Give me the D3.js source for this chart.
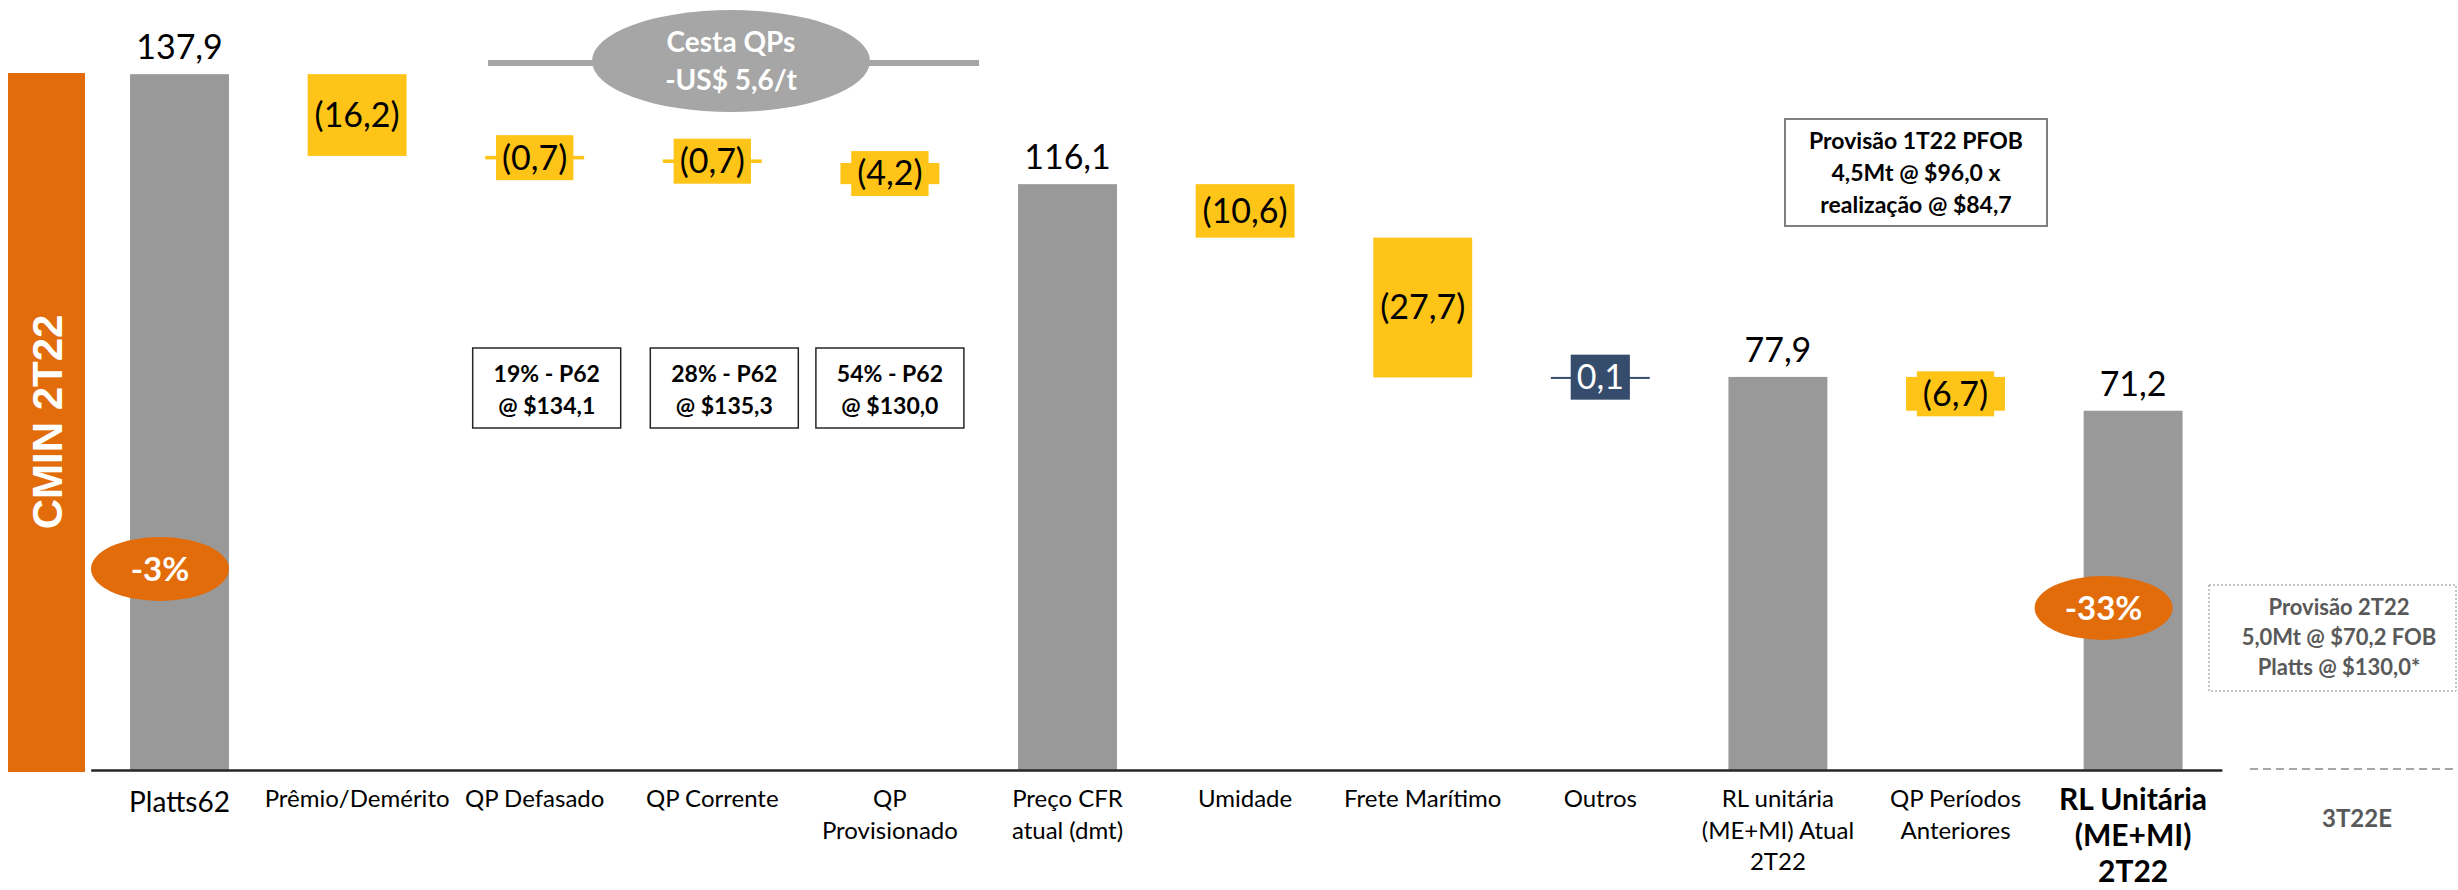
<!DOCTYPE html>
<html>
<head>
<meta charset="utf-8">
<script src="https://cdn.jsdelivr.net/npm/d3@7"></script>
<style>
  body { margin: 0; background: #fff; }
  text { font-family: Lato, 'Open Sans', sans-serif; }
</style>
</head>
<body>
<svg id="chart"></svg>
<script>
// waterfall categories, with how the axis label wraps
const categories = ['Platts62', 'Prêmio/Demérito', 'QP Defasado', 'QP Corrente', 'QP Provisionado',
  'Preço CFR atual (dmt)', 'Umidade', 'Frete Marítimo', 'Outros',
  'RL unitária (ME+MI) Atual 2T22', 'QP Períodos Anteriores', 'RL Unitária (ME+MI) 2T22'];
const categoryLines = [['Platts62'], ['Prêmio/Demérito'], ['QP Defasado'], ['QP Corrente'], ['QP', 'Provisionado'],
  ['Preço CFR', 'atual (dmt)'], ['Umidade'], ['Frete Marítimo'], ['Outros'],
  ['RL unitária', '(ME+MI) Atual', '2T22'], ['QP Períodos', 'Anteriores'], ['RL Unitária', '(ME+MI)', '2T22']];
const values = [137.9, -16.2, -0.7, -0.7, -4.2, 116.1, -10.6, -27.7, 0.1, 77.9, -6.7, 71.2];
const barTypes = ['total', 'delta', 'delta', 'delta', 'delta', 'total', 'delta', 'delta', 'delta', 'total', 'delta', 'total'];

// annotations
const qpBoxes = [['19% - P62', '@ $134,1'], ['28% - P62', '@ $135,3'], ['54% - P62', '@ $130,0']];
const provisao1T22 = ['Provisão 1T22 PFOB', '4,5Mt @ $96,0 x', 'realização @ $84,7'];
const provisao2T22 = ['Provisão 2T22', '5,0Mt @ $70,2 FOB', 'Platts @ $130,0*'];
const cestaText = ['Cesta QPs', '-US$ 5,6/t'];
const variationLabels = ['-3%', '-33%'];
const sideTitle = 'CMIN 2T22';
const nextQuarter = '3T22E';

const W = 2458, H = 890;
const baseY = 770;

const svg = d3.select('#chart').attr('width', W).attr('height', H);

const x = d3.scaleBand()
    .domain(categories)
    .range([90.7, 2221.9])
    .paddingInner(0.443)
    .paddingOuter(0.2215);

const y = d3.scaleLinear()
    .domain([0, 140])
    .range([baseY, baseY - 140 * 5.046]);

const cx = c => x(c) + x.bandwidth() / 2;
const fmt = v => Math.abs(v).toFixed(1).replace('.', ',');

// running totals for the waterfall
let run = 0;
const bars = values.map((v, i) => {
  if (barTypes[i] === 'total') {
    run = v;
    return { cat: categories[i], v, type: 'total', start: 0, end: v };
  }
  const s = run;
  run += v;
  return { cat: categories[i], v, type: v < 0 ? 'down' : 'up', start: s, end: run };
});

const colors = { total: '#999999', down: '#FFC418', up: '#354C6C' };

// orange side panel
svg.append('rect')
    .attr('x', 8).attr('y', 73)
    .attr('width', 77).attr('height', 699)
    .attr('fill', '#E36C0A');
svg.append('text')
    .attr('transform', 'translate(62,422) rotate(-90)')
    .attr('text-anchor', 'middle')
    .style('font-family', "'Liberation Sans', Arial, sans-serif")
    .style('font-weight', 'bold')
    .style('font-size', '42px')
    .attr('fill', '#fff')
    .text(sideTitle);

// bars
svg.selectAll('.bar')
    .data(bars)
  .join('rect')
    .attr('class', 'bar')
    .attr('x', d => x(d.cat))
    .attr('width', x.bandwidth())
    .attr('y', d => Math.min(y(d.start), y(d.end)))
    .attr('height', d => Math.max(2, Math.abs(y(d.start) - y(d.end))))
    .attr('fill', d => colors[d.type]);

// total labels
svg.selectAll('.total-label')
    .data(bars.filter(d => d.type === 'total'))
  .join('text')
    .attr('class', 'total-label')
    .attr('x', d => cx(d.cat))
    .attr('y', d => y(d.end) - 15)
    .attr('text-anchor', 'middle')
    .style('font-size', '34px')
    .attr('fill', '#000')
    .text(d => fmt(d.v));

// delta labels: inside tall bars, on a small tag for thin ones
const deltas = bars.filter(d => d.type !== 'total');
deltas.forEach(d => {
  const top = Math.min(y(d.start), y(d.end));
  const h = Math.abs(y(d.start) - y(d.end));
  const mid = top + h / 2;
  const label = d.v < 0 ? `(${fmt(d.v)})` : fmt(d.v);
  const g = svg.append('g');
  const t = g.append('text')
      .attr('x', cx(d.cat))
      .attr('y', mid)
      .attr('dy', '0.35em')
      .attr('text-anchor', 'middle')
      .style('font-size', '34px')
      .attr('fill', d.type === 'up' ? '#fff' : '#000')
      .text(label);
  if (h < 45) {
    const tw = t.node().getComputedTextLength() + 12;
    g.insert('rect', 'text')
        .attr('x', cx(d.cat) - tw / 2)
        .attr('y', mid - 22.5)
        .attr('width', tw)
        .attr('height', 45)
        .attr('fill', colors[d.type]);
  }
});

// x axis line
const xAxis = d3.axisBottom(x).tickSize(0).tickSizeOuter(0).tickFormat('');
svg.append('g')
    .attr('transform', `translate(0,${baseY})`)
    .call(xAxis)
    .call(g => g.select('.domain').attr('stroke', '#262626').attr('stroke-width', 2.5));

svg.append('line')
    .attr('x1', 2250).attr('x2', W)
    .attr('y1', 769).attr('y2', 769)
    .attr('stroke', '#A6A6A6')
    .attr('stroke-width', 2)
    .attr('stroke-dasharray', '8,5');

// category labels
const lastCat = categories[categories.length - 1];
categories.forEach((c, i) => {
  const isFirst = i === 0, isLast = c === lastCat;
  const lineH = isLast ? 36 : 31.5;
  const y0 = isLast ? 810 : (isFirst ? 812 : 807);
  svg.append('text')
      .attr('text-anchor', 'middle')
      .style('font-size', isLast ? '30px' : (isFirst ? '28px' : '24px'))
      .style('font-weight', isLast ? 'bold' : 'normal')
      .attr('fill', '#000')
    .selectAll('tspan')
    .data(categoryLines[i])
    .join('tspan')
      .attr('x', cx(c))
      .attr('y', (d, j) => y0 + j * lineH)
      .text(d => d);
});

svg.append('text')
    .attr('x', 2357).attr('y', 827)
    .attr('text-anchor', 'middle')
    .style('font-size', '24px')
    .style('font-weight', 'bold')
    .attr('fill', '#595959')
    .text(nextQuarter);

// "Cesta QPs" bubble
svg.append('line').attr('x1', 488).attr('x2', 594).attr('y1', 63).attr('y2', 63)
    .attr('stroke', '#A6A6A6').attr('stroke-width', 6);
svg.append('line').attr('x1', 868).attr('x2', 979).attr('y1', 63).attr('y2', 63)
    .attr('stroke', '#A6A6A6').attr('stroke-width', 6);
svg.append('ellipse')
    .attr('cx', 731).attr('cy', 61).attr('rx', 139).attr('ry', 51)
    .attr('fill', '#A6A6A6');
svg.append('text')
    .attr('text-anchor', 'middle')
    .style('font-size', '28px')
    .style('font-weight', 'bold')
    .attr('fill', '#fff')
  .selectAll('tspan')
  .data(cestaText)
  .join('tspan')
    .attr('x', 731)
    .attr('y', (d, j) => 52 + j * 38)
    .text(d => d);

// P62 boxes under the QP columns
const boxGroup = svg.selectAll('.qpbox')
    .data(qpBoxes)
  .join('g')
    .attr('class', 'qpbox')
    .attr('transform', (d, i) => `translate(${cx(categories[2 + i]) + (i === 2 ? 0 : 12)},0)`);
boxGroup.append('rect')
    .attr('x', -74).attr('y', 348)
    .attr('width', 148).attr('height', 80)
    .attr('fill', '#fff')
    .attr('stroke', '#262626')
    .attr('stroke-width', 1.5);
boxGroup.append('text')
    .attr('text-anchor', 'middle')
    .style('font-size', '23px')
    .style('font-weight', 'bold')
    .attr('fill', '#000')
  .selectAll('tspan')
  .data(d => d)
  .join('tspan')
    .attr('x', 0)
    .attr('y', (d, j) => 382 + j * 32)
    .text(d => d);

// Provisão 1T22 box
svg.append('rect')
    .attr('x', 1785).attr('y', 119)
    .attr('width', 262).attr('height', 107)
    .attr('fill', '#fff')
    .attr('stroke', '#7F7F7F')
    .attr('stroke-width', 2);
svg.append('text')
    .attr('text-anchor', 'middle')
    .style('font-size', '23px')
    .style('font-weight', 'bold')
    .attr('fill', '#000')
  .selectAll('tspan')
  .data(provisao1T22)
  .join('tspan')
    .attr('x', 1916)
    .attr('y', (d, j) => 149 + j * 32)
    .text(d => d);

// Provisão 2T22 dotted box
svg.append('rect')
    .attr('x', 2209).attr('y', 585)
    .attr('width', 247).attr('height', 106)
    .attr('fill', 'none')
    .attr('stroke', '#8C8C8C')
    .attr('stroke-width', 1)
    .attr('stroke-dasharray', '2,2');
svg.append('text')
    .attr('text-anchor', 'middle')
    .style('font-size', '22px')
    .style('font-weight', 'bold')
    .attr('fill', '#595959')
  .selectAll('tspan')
  .data(provisao2T22)
  .join('tspan')
    .attr('x', 2339)
    .attr('y', (d, j) => 615 + j * 30)
    .text(d => d);

// variation bubbles
const bubbles = [
  { cat: categories[0], dx: -19.5, cy: 569, rx: 69, text: variationLabels[0] },
  { cat: lastCat, dx: -29.5, cy: 608, rx: 69, text: variationLabels[1] }
];
bubbles.forEach(b => {
  svg.append('ellipse')
      .attr('cx', cx(b.cat) + b.dx).attr('cy', b.cy)
      .attr('rx', b.rx).attr('ry', 32)
      .attr('fill', '#E36C0A');
  svg.append('text')
      .attr('x', cx(b.cat) + b.dx).attr('y', b.cy)
      .attr('dy', '0.36em')
      .attr('text-anchor', 'middle')
      .style('font-size', '33px')
      .style('font-weight', 'bold')
      .attr('fill', '#fff')
      .text(b.text);
});
</script>
</body>
</html>
